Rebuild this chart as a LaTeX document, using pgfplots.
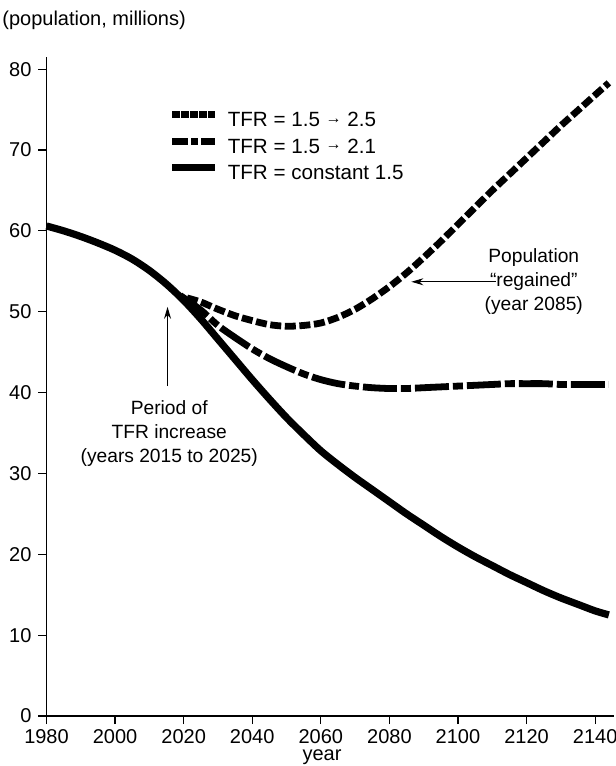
\documentclass[border=0pt]{standalone}
\usepackage{fontspec}
\setmainfont{Liberation Sans}
\usepackage{pgfplots}
\pgfplotsset{compat=1.18}
\usetikzlibrary{arrows.meta}

\begin{document}
\begin{tikzpicture}
\path[use as bounding box] (-23.25pt,-25pt) rectangle (284.75pt,358pt);
\begin{axis}[
  scale only axis, width=283.75pt, height=329.5pt,
  xmin=1980, xmax=2145.5, ymin=0, ymax=81.5,
  axis lines*=left,
  axis line style={line width=0.6pt},
  tick align=outside, major tick length=4pt,
  tick style={line width=0.6pt, black},
  xtick={1980,2000,...,2140}, ytick={0,10,...,80},
  /pgf/number format/assume math mode=true,
  /pgf/number format/1000 sep={},
  tick label style={font=\fontsize{10}{12}\selectfont},
  xticklabel style={yshift=1pt},
  xlabel={year},
  xlabel style={at={(rel axis cs:0.4855,0)}, anchor=base, yshift=-22pt, font=\fontsize{10}{12}\selectfont},
  clip=false,
  legend image code/.code={\draw[#1] (0pt,0.33em) -- (21.5pt,0.33em);},
  legend cell align=left,
  legend style={draw=none, fill=none, at={(rel axis cs:0.2159,0.9176)}, anchor=north west,
    inner sep=0pt, outer sep=0pt, row sep=3.6pt,
    font=\fontsize{10.3}{12}\selectfont,
    nodes={inner sep=0pt, text height=7.3pt, text depth=2pt},
    /tikz/every odd column/.append style={column sep=4.5pt}},
]
\addlegendimage{line width=3.4pt, dash pattern=on 3.6pt off 0.9pt}
\addlegendentry{TFR = 1.5 {\raisebox{0.3ex}{\footnotesize →}} 2.5}
\addlegendimage{line width=3.4pt, dash pattern=on 8pt off 1.5pt on 3.5pt off 1.5pt}
\addlegendentry{TFR = 1.5 {\raisebox{0.3ex}{\footnotesize →}} 2.1}
\addlegendimage{line width=3.4pt}
\addlegendentry{TFR = constant 1.5}

% TFR constant 1.5
\addplot[forget plot, black, line width=3.6pt, smooth] coordinates {
(1980,60.6) (1985,60.0) (1990,59.3) (1995,58.5) (2000,57.6) (2005,56.5)
(2010,55.1) (2015,53.4) (2020,51.4) (2025,49.1) (2030,46.6) (2035,44.1)
(2040,41.6) (2045,39.2) (2050,36.9) (2055,34.8) (2060,32.8) (2065,31.1)
(2070,29.5) (2075,28.0) (2080,26.5) (2085,25.0) (2090,23.6) (2095,22.2)
(2100,20.9) (2105,19.7) (2110,18.6) (2115,17.5) (2120,16.5) (2125,15.5)
(2130,14.6) (2135,13.8) (2140,13.0) (2144,12.5)
};
% TFR 1.5 -> 2.1
\addplot[forget plot, black, line width=3.4pt, smooth, dash pattern=on 17pt off 2pt on 5pt off 2pt] coordinates {
(2019,52.0) (2025,50.2) (2030,48.3) (2035,46.8) (2040,45.4) (2045,44.2)
(2050,43.2) (2055,42.3) (2060,41.6) (2065,41.1) (2070,40.8) (2075,40.6)
(2080,40.5) (2085,40.5) (2090,40.6) (2095,40.7) (2100,40.8) (2105,40.9)
(2110,41.0) (2115,41.1) (2120,41.1) (2125,41.1) (2130,41.0) (2135,41.0)
(2140,41.0) (2144,41.0)
};
% TFR 1.5 -> 2.5
\addplot[forget plot, black, line width=3.4pt, smooth, dash pattern=on 5.5pt off 1.8pt] coordinates {
(2021,51.7) (2025,51.2) (2030,50.3) (2035,49.5) (2040,48.9) (2045,48.4)
(2050,48.2) (2055,48.3) (2060,48.6) (2065,49.3) (2070,50.3) (2075,51.6)
(2080,53.1) (2085,54.8) (2090,56.7) (2095,58.7) (2100,60.8) (2105,62.9)
(2110,65.0) (2115,67.0) (2120,69.0) (2125,71.0) (2130,73.0) (2135,74.9)
(2140,76.8) (2144,78.3)
};

\node[anchor=west, font=\fontsize{10}{12}\selectfont, inner sep=0pt] at (rel axis cs:-0.0784,1.0561) {(population, millions)};

\node[align=center, font=\fontsize{9.6}{12}\selectfont] at (axis cs:2015.8,34.9) {Period of\\TFR increase\\(years 2015 to 2025)};
\draw[line width=0.5pt, -{Stealth[length=6pt,width=3.5pt]}] (axis cs:2015.3,40.8) -- (axis cs:2015.3,50.6);

\node[align=center, font=\fontsize{9.6}{12}\selectfont] at (axis cs:2122.1,53.7) {Population\\“regained”\\(year 2085)};
\draw[line width=0.5pt, -{Stealth[length=6pt,width=3.5pt]}] (axis cs:2111,53.7) -- (axis cs:2086.4,53.7);
\end{axis}
\end{tikzpicture}
\end{document}
